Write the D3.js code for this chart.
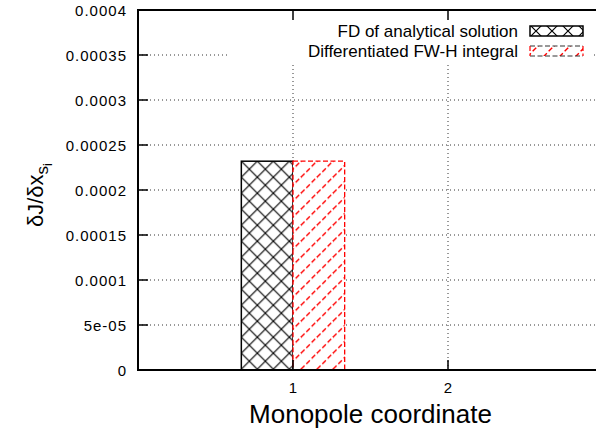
<!DOCTYPE html>
<html><head><meta charset="utf-8">
<script src="https://cdn.jsdelivr.net/npm/d3@7"></script>
<style>html,body{margin:0;padding:0;background:#fff;overflow:hidden}svg{display:block}text{font-family:"Liberation Sans",Arial,sans-serif;fill:#000}</style>
</head><body>
<script>
const categories = [1];
const xTicks = [1, 2];
const xTickLabels = ["1", "2"];
const seriesNames = ["FD of analytical solution", "Differentiated FW-H integral"];
const seriesFD = [0.000232];
const seriesFWH = [0.000232];
const yTicks = [0, 0.00005, 0.0001, 0.00015, 0.0002, 0.00025, 0.0003, 0.00035, 0.0004];
const yTickLabels = ["0", "5e-05", "0.0001", "0.00015", "0.0002", "0.00025", "0.0003", "0.00035", "0.0004"];

const W = 596, H = 433;
const L = 138, T = 10, R = 603, B = 370;
const svg = d3.select("body").append("svg").attr("width", W).attr("height", H);
const defs = svg.append("defs");
const x = d3.scaleLinear().domain([0, 3]).range([L, R]);
const y = d3.scaleLinear().domain([0, 0.0004]).range([B, T]);

function crossPattern(id, ox, oy) {
  const p = defs.append("pattern").attr("id", id).attr("patternUnits", "userSpaceOnUse")
    .attr("x", ox).attr("y", oy).attr("width", 16).attr("height", 16);
  p.append("rect").attr("width", 16).attr("height", 16).attr("fill", "#fff");
  p.append("path").attr("d", "M0,0L16,16M16,0L0,16M-4,4L4,-4M12,20L20,12M12,-4L20,4M-4,12L4,20")
    .attr("stroke", "#000").attr("stroke-width", 1.15).attr("fill", "none");
}
function hatchPattern(id, ox, oy) {
  const p = defs.append("pattern").attr("id", id).attr("patternUnits", "userSpaceOnUse")
    .attr("x", ox).attr("y", oy).attr("width", 16).attr("height", 16);
  p.append("rect").attr("width", 16).attr("height", 16).attr("fill", "#fff");
  p.append("path").attr("d", "M0,16L16,0").attr("stroke", "#ff0000").attr("stroke-width", 1.4)
    .attr("stroke-dasharray", "5,2.54").attr("fill", "none");
  p.append("path").attr("d", "M-4,4L4,-4M12,20L20,12").attr("stroke", "#ff0000").attr("stroke-width", 1.4)
    .attr("stroke-dasharray", "3,2").attr("fill", "none");
}

// grid
const grid = svg.append("g").attr("stroke", "#333").attr("stroke-width", 1).attr("stroke-dasharray", "1,3");
yTicks.slice(1, -1).forEach(v => {
  grid.append("line").attr("x1", L).attr("x2", R).attr("y1", y(v)).attr("y2", y(v));
});
xTicks.forEach(v => {
  grid.append("line").attr("x1", x(v)).attr("x2", x(v)).attr("y1", B).attr("y2", T);
});

// legend background
svg.append("rect").attr("x", 228).attr("y", 12).attr("width", 363).attr("height", 50).attr("fill", "#fff");

// bars
const bw = 1 / 3;
categories.forEach((c, i) => {
  const x0 = x(c - bw), x1 = x(c), x2 = x(c + bw);
  const t1 = y(seriesFD[i]), t2 = y(seriesFWH[i]);
  crossPattern("pc" + i, x0, t1);
  hatchPattern("ph" + i, x1 + 8, t2);
  svg.append("rect").attr("x", x0).attr("y", t1).attr("width", x1 - x0).attr("height", y(0) - t1)
    .attr("fill", `url(#pc${i})`).attr("stroke", "#000").attr("stroke-width", 1.5);
  svg.append("rect").attr("x", x1).attr("y", t2).attr("width", x2 - x1).attr("height", y(0) - t2)
    .attr("fill", `url(#ph${i})`).attr("stroke", "#ff0000").attr("stroke-width", 1.3)
    .attr("stroke-dasharray", "5,2.5");
});

// border
svg.append("path").attr("d", `M${R},${T}H${L}V${B}H${R}`).attr("fill", "none")
  .attr("stroke", "#000").attr("stroke-width", 2);

// ticks
const tk = svg.append("g").attr("stroke", "#000").attr("stroke-width", 1.5);
yTicks.slice(1, -1).forEach(v => {
  tk.append("line").attr("x1", L).attr("x2", L + 10).attr("y1", y(v)).attr("y2", y(v));
});
xTicks.forEach(v => {
  tk.append("line").attr("x1", x(v)).attr("x2", x(v)).attr("y1", B).attr("y2", B - 10);
  tk.append("line").attr("x1", x(v)).attr("x2", x(v)).attr("y1", T).attr("y2", T + 10);
});

// tick labels
yTicks.forEach((v, i) => {
  svg.append("text").attr("x", 127).attr("y", y(v) + 5.5).attr("text-anchor", "end")
    .attr("font-size", 15).attr("letter-spacing", 1).text(yTickLabels[i]);
});
xTicks.forEach((v, i) => {
  svg.append("text").attr("x", x(v)).attr("y", 393).attr("text-anchor", "middle")
    .attr("font-size", 15).text(xTickLabels[i]);
});

// axis titles
svg.append("text").attr("x", (L + R) / 2).attr("y", 423).attr("text-anchor", "middle")
  .attr("font-size", 26).text("Monopole coordinate");
const yl = svg.append("text").attr("transform", "translate(43,227) rotate(-90)").attr("font-size", 22);
yl.append("tspan").text("δJ/δx");
yl.append("tspan").attr("dy", 5).attr("font-size", 17).text("s");
yl.append("tspan").attr("dy", 4).attr("font-size", 13).text("i");

// legend
const legY = [31, 51];
crossPattern("plc", 536, 31);
hatchPattern("plh", 538, 46);
seriesNames.forEach((n, i) => {
  svg.append("text").attr("x", 518).attr("y", legY[i] + 6).attr("text-anchor", "end")
    .attr("font-size", 17).text(n);
});
svg.append("rect").attr("x", 530).attr("y", 26).attr("width", 53).attr("height", 10)
  .attr("fill", "url(#plc)").attr("stroke", "#000").attr("stroke-width", 1.5);
svg.append("rect").attr("x", 530).attr("y", 46).attr("width", 53).attr("height", 10)
  .attr("fill", "url(#plh)").attr("stroke", "none");
const lg = svg.append("g").attr("fill", "none").attr("stroke-dasharray", "5,2.5").attr("stroke-width", 1.2);
lg.append("path").attr("d", "M530,46H583M530,56H583").attr("stroke", "#333");
lg.append("path").attr("d", "M530,46V56M583,46V56").attr("stroke", "#ff0000");
</script>
</body></html>
